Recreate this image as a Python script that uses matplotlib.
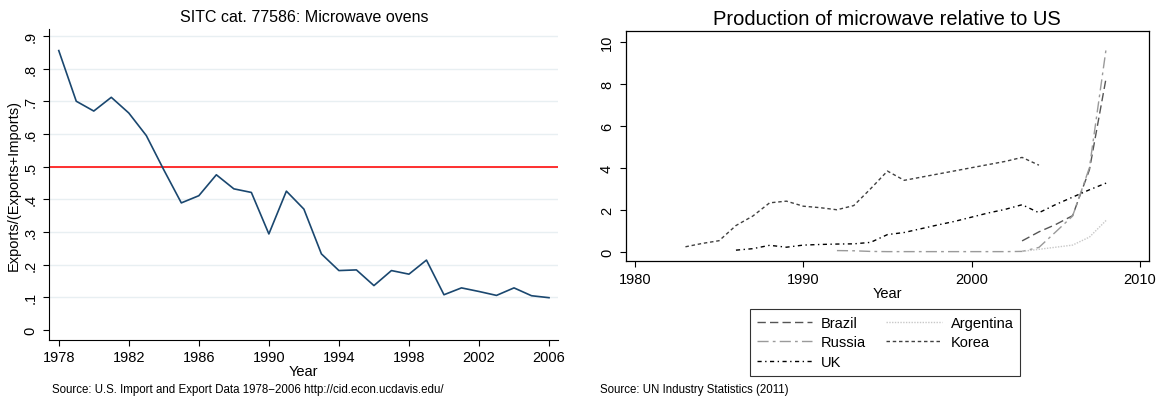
import matplotlib
matplotlib.use("Agg")
import matplotlib.pyplot as plt

plt.rcParams['font.family'] = ['Liberation Sans', 'DejaVu Sans']

# ---- Left panel data ----
years_l = list(range(1978, 2007))
share = [0.855, 0.700, 0.670, 0.712, 0.664, 0.595, 0.490, 0.389, 0.411, 0.475,
         0.432, 0.421, 0.294, 0.425, 0.370, 0.233, 0.182, 0.184, 0.136, 0.182,
         0.171, 0.214, 0.108, 0.129, 0.118, 0.106, 0.129, 0.105, 0.099]
yticks_l = [0, .1, .2, .3, .4, .5, .6, .7, .8, .9]
ytick_labels_l = ['0', '.1', '.2', '.3', '.4', '.5', '.6', '.7', '.8', '.9']
xticks_l = list(range(1978, 2007, 4))

# ---- Right panel data ----
brazil_years = [2003, 2004, 2005, 2006, 2007, 2008]
brazil = [0.52, 0.95, 1.3, 1.72, 3.9, 8.3]
russia_years = list(range(1992, 2009))
russia = [0.06, 0.05, 0.02, 0.01, 0.01, 0.01, 0.01, 0.01, 0.01, 0.01, 0.01, 0.02,
          0.21, 0.95, 1.7, 4.0, 9.7]
uk_years = list(range(1986, 2009))
uk = [0.08, 0.15, 0.31, 0.22, 0.32, 0.35, 0.37, 0.38, 0.45, 0.82, 0.92, 1.1,
      1.28, 1.45, 1.65, 1.85, 2.02, 2.24, 1.86, 2.25, 2.6, 2.95, 3.27]
argentina_years = [2003, 2004, 2005, 2006, 2007, 2008]
argentina = [0.02, 0.12, 0.22, 0.32, 0.7, 1.5]
korea_years = list(range(1983, 2005))
korea = [0.24, 0.4, 0.53, 1.25, 1.7, 2.33, 2.41, 2.17, 2.1, 2.0, 2.2, 3.0,
         3.84, 3.4, 3.55, 3.7, 3.85, 4.0, 4.15, 4.3, 4.49, 4.12]
xticks_r = [1980, 1990, 2000, 2010]
yticks_r = [0, 2, 4, 6, 8, 10]

W, H = 1161, 402
fig = plt.figure(figsize=(W / 100, H / 100), dpi=100)

def rect(l, t, r, b):
    return [l / W, 1 - b / H, (r - l) / W, (b - t) / H]

TICK_FS = 10.5

# ---- Left axes ----
ax1 = fig.add_axes(rect(49.3, 30, 558.3, 340.5))
for y in yticks_l[1:]:
    ax1.axhline(y, color='#e8eff2', lw=1.0, zorder=0)
ax1.axhline(0.5, color='#ff2020', lw=1.3, zorder=1)
ax1.plot(years_l, share, color='#1a476f', lw=1.2, zorder=2)
ax1.set_xlim(1977.46, 2006.53)
ax1.set_ylim(-0.0289, 0.921)
ax1.spines['top'].set_visible(False)
ax1.spines['right'].set_visible(False)
ax1.set_yticks(yticks_l)
ax1.set_yticklabels(ytick_labels_l, rotation=90, va='center')
ax1.set_xticks(xticks_l)
ax1.tick_params(labelsize=TICK_FS, length=4.5, width=0.8, direction='out')
ax1.tick_params(axis='y', pad=4)
ax1.tick_params(axis='x', pad=3)
ax1.set_ylabel('Exports/(Exports+Imports)', fontsize=TICK_FS, labelpad=2)
ax1.set_xlabel('Year', fontsize=TICK_FS, labelpad=0)
ax1.set_title('SITC cat. 77586: Microwave ovens', fontsize=11.5, pad=6)
fig.text(52 / W, 1 - 390 / H, 'Source: U.S. Import and Export Data 1978\u22122006 http://cid.econ.ucdavis.edu/',
         fontsize=8.3, va='center', ha='left')

# ---- Right axes ----
ax2 = fig.add_axes(rect(625.7, 32, 1149, 262.3))
ax2.plot(brazil_years, brazil, color='#555555', lw=1.0, dashes=(6, 3), label='Brazil')
ax2.plot(russia_years, russia, color='#9a9a9a', lw=1.0, dashes=(8, 3, 2, 3), label='Russia')
ax2.plot(uk_years, uk, color='#000000', lw=1.0, dashes=(3, 2.5, 1, 2.5), label='UK')
ax2.plot(argentina_years, argentina, color='#c8c8c8', lw=1.0, dashes=(1, 1), label='Argentina')
ax2.plot(korea_years, korea, color='#404040', lw=1.0, dashes=(2.5, 2), label='Korea')
ax2.set_xlim(1979.45, 2010.54)
ax2.set_ylim(-0.45, 10.5)
ax2.set_xticks(xticks_r)
ax2.set_yticks(yticks_r)
ax2.set_yticklabels([str(v) for v in yticks_r], rotation=90, va='center')
ax2.tick_params(labelsize=TICK_FS, length=4.5, width=0.8, direction='out')
ax2.tick_params(axis='y', pad=4)
ax2.tick_params(axis='x', pad=3)
ax2.set_xlabel('Year', fontsize=TICK_FS, labelpad=0)
ax2.set_title('Production of microwave relative to US', fontsize=14.5, pad=5)
for s in ax2.spines.values():
    s.set_linewidth(0.9)

handles, labels = ax2.get_legend_handles_labels()
leg = fig.legend(handles, labels, loc='center', ncol=2,
                 bbox_to_anchor=(885 / W, 1 - 343.5 / H),
                 fontsize=10.5, frameon=True, fancybox=False, edgecolor='black',
                 handlelength=3.8, columnspacing=1.4, labelspacing=0.4,
                 borderpad=0.45, handletextpad=0.6)
leg.get_frame().set_linewidth(0.8)
fig.text(600 / W, 1 - 390 / H, 'Source: UN Industry Statistics (2011)',
         fontsize=8.3, va='center', ha='left')

fig.savefig('out.png', dpi=100)
